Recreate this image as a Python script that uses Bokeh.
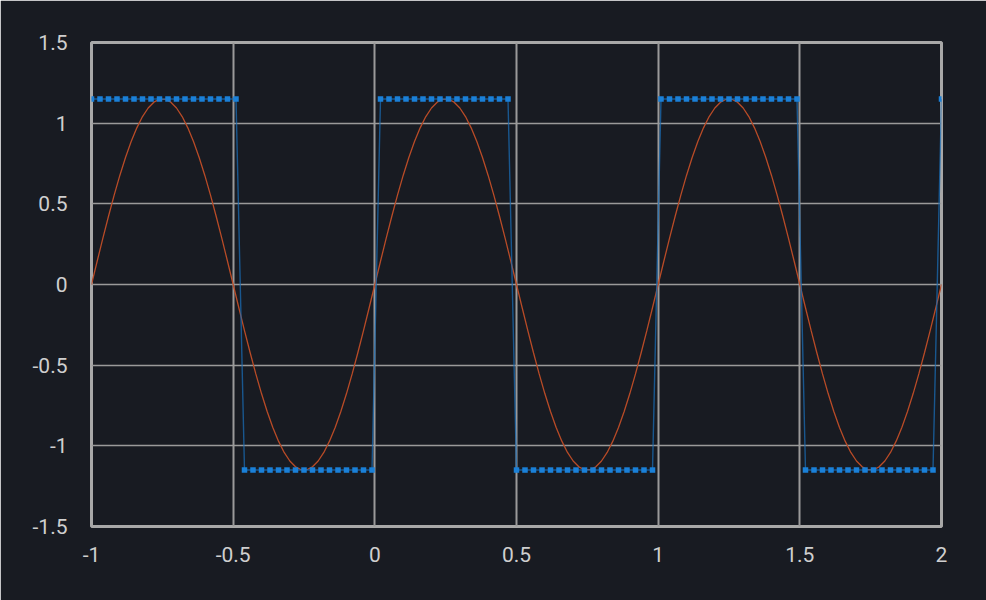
import numpy as np
from bokeh.plotting import figure
from bokeh.models import Range1d, FixedTicker, CustomJSTickFormatter
from bokeh.embed import file_html
from bokeh.resources import INLINE

# ---- data ----
x_ticks = [-1, -0.5, 0, 0.5, 1, 1.5, 2]
y_ticks = [-1.5, -1, -0.5, 0, 0.5, 1, 1.5]

# sine wave sampled every 0.02 from -1 to 2
sine_x = np.round(np.linspace(-1, 2, 151), 4)
sine_y = [
    0, 0.144, 0.286, 0.423, 0.554, 0.676, 0.787, 0.886, 0.971, 1.041, 1.094, 1.130, 1.148,
    1.148, 1.130, 1.094, 1.041, 0.971, 0.886, 0.787, 0.676, 0.554, 0.423, 0.286, 0.144,
    0, -0.144, -0.286, -0.423, -0.554, -0.676, -0.787, -0.886, -0.971, -1.041, -1.094, -1.130, -1.148,
    -1.148, -1.130, -1.094, -1.041, -0.971, -0.886, -0.787, -0.676, -0.554, -0.423, -0.286, -0.144,
    0, 0.144, 0.286, 0.423, 0.554, 0.676, 0.787, 0.886, 0.971, 1.041, 1.094, 1.130, 1.148,
    1.148, 1.130, 1.094, 1.041, 0.971, 0.886, 0.787, 0.676, 0.554, 0.423, 0.286, 0.144,
    0, -0.144, -0.286, -0.423, -0.554, -0.676, -0.787, -0.886, -0.971, -1.041, -1.094, -1.130, -1.148,
    -1.148, -1.130, -1.094, -1.041, -0.971, -0.886, -0.787, -0.676, -0.554, -0.423, -0.286, -0.144,
    0, 0.144, 0.286, 0.423, 0.554, 0.676, 0.787, 0.886, 0.971, 1.041, 1.094, 1.130, 1.148,
    1.148, 1.130, 1.094, 1.041, 0.971, 0.886, 0.787, 0.676, 0.554, 0.423, 0.286, 0.144,
    0, -0.144, -0.286, -0.423, -0.554, -0.676, -0.787, -0.886, -0.971, -1.041, -1.094, -1.130, -1.148,
    -1.148, -1.130, -1.094, -1.041, -0.971, -0.886, -0.787, -0.676, -0.554, -0.423, -0.286, -0.144,
    0,
]

# square wave sampled every 0.03 from -1 to 2
square_x = np.round(np.linspace(-1, 2, 101), 4)
T, B = 1.15, -1.15
square_y = (
    [T] * 18 + [B] * 16 + [T] * 16 + [B] * 17 + [T] * 17 + [B] * 16 + [T] * 1
)

# ---- figure ----
BG = "#181b22"
p = figure(
    width=986, height=600,
    x_range=Range1d(-1, 2), y_range=Range1d(-1.5, 1.5),
    output_backend="svg", toolbar_location=None,
    background_fill_color=BG, border_fill_color=BG,
    min_border_left=91, min_border_right=45, min_border_top=42, min_border_bottom=74,
)
p.outline_line_color = "#a8a8a8"
p.outline_line_width = 3

fmt = CustomJSTickFormatter(code="return tick.toString();")
for ax, ticks in ((p.xaxis, x_ticks), (p.yaxis, y_ticks)):
    ax.ticker = FixedTicker(ticks=ticks)
    ax.formatter = fmt
    ax.axis_line_color = None
    ax.major_tick_line_color = None
    ax.minor_tick_line_color = None
    ax.major_label_text_color = "#cfcfcf"
    ax.major_label_text_font = "Roboto"
    ax.major_label_text_font_size = "21px"
p.yaxis.major_label_standoff = 18
p.xaxis.major_label_standoff = 14

p.xgrid.ticker = FixedTicker(ticks=x_ticks)
p.ygrid.ticker = FixedTicker(ticks=y_ticks)
p.xgrid.grid_line_color = "#9a9a9a"
p.xgrid.grid_line_width = 2
p.ygrid.grid_line_color = "#9a9a9a"
p.ygrid.grid_line_width = 1.5

p.line(sine_x, sine_y, line_color="#b84b27", line_width=1.3)
p.line(square_x, square_y, line_color="#1a6cb4", line_width=1.4, line_alpha=0.75)
p.scatter(square_x, square_y, marker="square", size=5.5,
          fill_color="#1a80d8", line_color=None)

open("out.html", "w").write(file_html(p, INLINE))
